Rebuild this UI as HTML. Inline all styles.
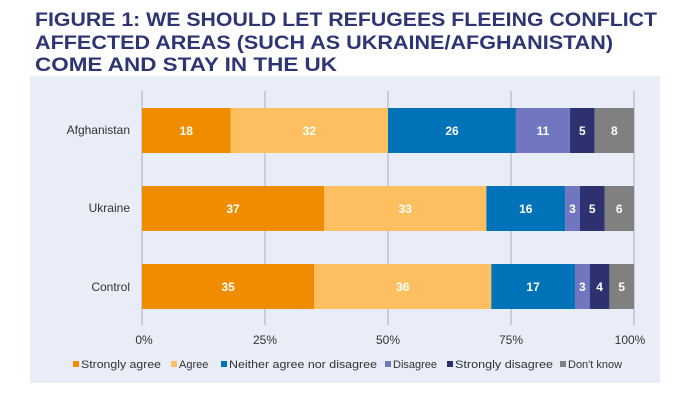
<!DOCTYPE html>
<html><head><style>body{margin:0;background:#fff}svg{display:block}</style></head><body>
<svg width="695" height="417" xmlns="http://www.w3.org/2000/svg" font-family="Liberation Sans, sans-serif">
<g fill="#2E3575" font-weight="bold" font-size="19">
<text x="35" y="26" textLength="622" lengthAdjust="spacingAndGlyphs">FIGURE 1: WE SHOULD LET REFUGEES FLEEING CONFLICT</text>
<text x="35" y="49" textLength="578" lengthAdjust="spacingAndGlyphs">AFFECTED AREAS (SUCH AS UKRAINE/AFGHANISTAN)</text>
<text x="35" y="71" textLength="302" lengthAdjust="spacingAndGlyphs">COME AND STAY IN THE UK</text>
</g>
<rect x="30" y="76" width="630" height="307" fill="#E8EDF8"/>
<g stroke="#A8AEB8" stroke-width="1">
<line x1="142" y1="91" x2="142" y2="325"/><line x1="265" y1="91" x2="265" y2="325"/><line x1="388" y1="91" x2="388" y2="325"/><line x1="511" y1="91" x2="511" y2="325"/><line x1="634" y1="91" x2="634" y2="325"/>
</g>
<g>
<rect x="142" y="108" width="88.56" height="45" fill="#F08C00"/>
<rect x="230.56" y="108" width="157.44" height="45" fill="#FDBF5F"/>
<rect x="388" y="108" width="127.92" height="45" fill="#0072B8"/>
<rect x="515.92" y="108" width="54.12" height="45" fill="#7077C0"/>
<rect x="570.04" y="108" width="24.6" height="45" fill="#2E3170"/>
<rect x="594.64" y="108" width="39.36" height="45" fill="#808080"/>

<rect x="142" y="186" width="182.04" height="45" fill="#F08C00"/>
<rect x="324.04" y="186" width="162.36" height="45" fill="#FDBF5F"/>
<rect x="486.4" y="186" width="78.72" height="45" fill="#0072B8"/>
<rect x="565.12" y="186" width="14.76" height="45" fill="#7077C0"/>
<rect x="579.88" y="186" width="24.6" height="45" fill="#2E3170"/>
<rect x="604.48" y="186" width="29.52" height="45" fill="#808080"/>

<rect x="142" y="264" width="172.2" height="45" fill="#F08C00"/>
<rect x="314.2" y="264" width="177.12" height="45" fill="#FDBF5F"/>
<rect x="491.32" y="264" width="83.64" height="45" fill="#0072B8"/>
<rect x="574.96" y="264" width="14.76" height="45" fill="#7077C0"/>
<rect x="589.72" y="264" width="19.68" height="45" fill="#2E3170"/>
<rect x="609.4" y="264" width="24.6" height="45" fill="#808080"/>
</g>
<g fill="#fff" font-size="12" font-weight="bold" text-anchor="middle">
<text x="186.3" y="135">18</text><text x="309.3" y="135">32</text><text x="452" y="135">26</text><text x="543" y="135">11</text><text x="582.3" y="135">5</text><text x="614.3" y="135">8</text>
<text x="233" y="213">37</text><text x="405.2" y="213">33</text><text x="525.8" y="213">16</text><text x="572.5" y="213">3</text><text x="592.2" y="213">5</text><text x="619.2" y="213">6</text>
<text x="228.1" y="291">35</text><text x="402.8" y="291">36</text><text x="533.1" y="291">17</text><text x="582.3" y="291">3</text><text x="599.6" y="291">4</text><text x="621.7" y="291">5</text>
</g>
<g font-size="12" fill="#333" text-anchor="end">
<text x="130" y="134">Afghanistan</text><text x="130" y="212">Ukraine</text><text x="130" y="291">Control</text>
</g>
<g font-size="12" fill="#333" text-anchor="middle">
<text x="144" y="344">0%</text><text x="265" y="344">25%</text><text x="388" y="344">50%</text><text x="511" y="344">75%</text><text x="630" y="344">100%</text>
</g>
<g font-size="11" fill="#333">
<rect x="73" y="361" width="6" height="6" fill="#F08C00"/><text x="81" y="368" textLength="80" lengthAdjust="spacingAndGlyphs">Strongly agree</text>
<rect x="171" y="361" width="6" height="6" fill="#FDBF5F"/><text x="179" y="368">Agree</text>
<rect x="221" y="361" width="6" height="6" fill="#0072B8"/><text x="229" y="368" textLength="148" lengthAdjust="spacingAndGlyphs">Neither agree nor disagree</text>
<rect x="385" y="361" width="6" height="6" fill="#7077C0"/><text x="393" y="368">Disagree</text>
<rect x="447" y="361" width="6" height="6" fill="#2E3170"/><text x="455" y="368" textLength="98" lengthAdjust="spacingAndGlyphs">Strongly disagree</text>
<rect x="560" y="361" width="6" height="6" fill="#808080"/><text x="568" y="368">Don't know</text>
</g>
</svg>
</body></html>
